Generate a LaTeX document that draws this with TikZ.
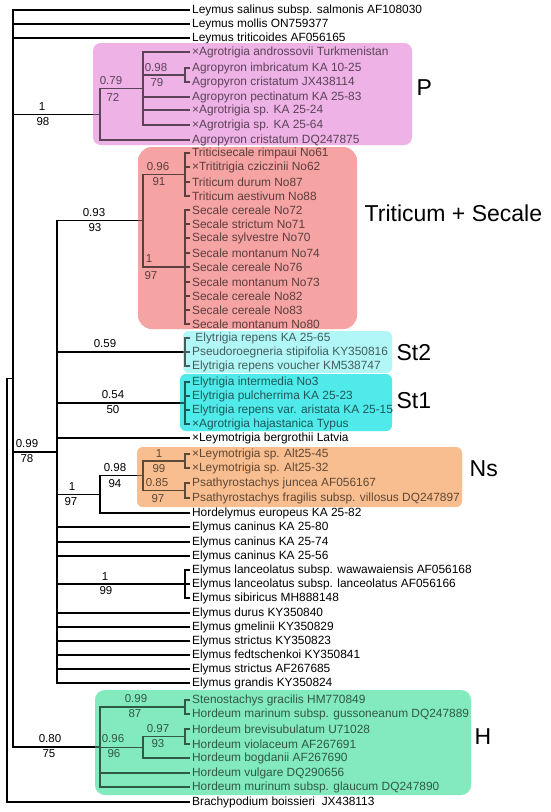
\documentclass[tikz,border=0pt]{standalone}
\usepackage{fontspec}
\setmainfont{Liberation Sans}
\definecolor{boxP}{RGB}{238,178,230}
\definecolor{boxTS}{RGB}{245,163,163}
\definecolor{boxStb}{RGB}{178,247,247}
\definecolor{boxSta}{RGB}{80,234,234}
\definecolor{boxNs}{RGB}{249,190,143}
\definecolor{boxH}{RGB}{130,234,188}

\begin{document}
\begin{tikzpicture}[x=1pt, y=-1pt, line width=1.3pt,
    leaf/.style={anchor=west, inner xsep=1.5pt, inner ysep=0pt, font=\fontsize{11.9}{13}\selectfont},
    supp/.style={inner sep=0pt, font=\fontsize{11.5}{13}\selectfont},
    genome/.style={anchor=west, inner sep=0pt, font=\fontsize{23}{26}\selectfont},
    clade/.style={fill=#1, rounded corners=8pt},
    tint/.style={fill=#1, fill opacity=0.38, rounded corners=8pt}]

    \useasboundingbox (0,0) rectangle (550,812);

    % coloured groups, underneath
    \fill[clade=boxP] (93,43) rectangle (412,145);
    \fill[clade=boxTS, rounded corners=14pt] (138,147) rectangle (357,329);
    \fill[clade=boxStb, rounded corners=6pt] (183,331) rectangle (392,373);
    \fill[clade=boxSta, rounded corners=6pt] (180,374) rectangle (392,431);
    \fill[clade=boxNs, rounded corners=6pt] (137,447) rectangle (462,507);
    \fill[clade=boxH, rounded corners=10pt] (95,690) rectangle (471,795);

    % taxa
    \node[leaf] (t1) at (190,10) {Leymus salinus subsp. salmonis AF108030};
    \node[leaf] (t2) at (190,24) {Leymus mollis ON759377};
    \node[leaf] (t3) at (190,38) {Leymus triticoides AF056165};
    \node[leaf] (t4) at (190,52) {×Agrotrigia androssovii Turkmenistan};
    \node[leaf] (t5) at (190,68) {Agropyron imbricatum KA 10-25};
    \node[leaf] (t6) at (190,82) {Agropyron cristatum JX438114};
    \node[leaf] (t7) at (190,97) {Agropyron pectinatum KA 25-83};
    \node[leaf] (t8) at (190,110) {×Agrotrigia sp. KA 25-24};
    \node[leaf] (t9) at (190,125) {×Agrotrigia sp. KA 25-64};
    \node[leaf] (t10) at (190,140) {Agropyron cristatum DQ247875};
    \node[leaf] (t11) at (190,153) {Triticisecale rimpaui No61};
    \node[leaf] (t12) at (190,167) {×Trititrigia cziczinii No62};
    \node[leaf] (t13) at (190,182) {Triticum durum No87};
    \node[leaf] (t14) at (190,196) {Triticum aestivum No88};
    \node[leaf] (t15) at (190,210) {Secale cereale No72};
    \node[leaf] (t16) at (190,224) {Secale strictum No71};
    \node[leaf] (t17) at (190,238) {Secale sylvestre No70};
    \node[leaf] (t18) at (190,253) {Secale montanum No74};
    \node[leaf] (t19) at (190,267) {Secale cereale No76};
    \node[leaf] (t20) at (190,282) {Secale montanum No73};
    \node[leaf] (t21) at (190,296) {Secale cereale No82};
    \node[leaf] (t22) at (190,310) {Secale cereale No83};
    \node[leaf] (t23) at (190,324) {Secale montanum No80};
    \node[leaf] (t24) at (190,338) {~Elytrigia repens KA 25-65};
    \node[leaf] (t25) at (190,352) {Pseudoroegneria stipifolia KY350816};
    \node[leaf] (t26) at (190,366) {Elytrigia repens voucher KM538747};
    \node[leaf] (t27) at (190,382) {Elytrigia intermedia No3};
    \node[leaf] (t28) at (190,396) {Elytrigia pulcherrima KA 25-23};
    \node[leaf] (t29) at (190,410) {Elytrigia repens var. aristata KA 25-15};
    \node[leaf] (t30) at (190,424) {×Agrotrigia hajastanica Typus};
    \node[leaf] (t31) at (190,438) {×Leymotrigia bergrothii Latvia};
    \node[leaf] (t32) at (190,454) {×Leymotrigia sp. Alt25-45};
    \node[leaf] (t33) at (190,468) {×Leymotrigia sp. Alt25-32};
    \node[leaf] (t34) at (190,483) {Psathyrostachys juncea AF056167};
    \node[leaf] (t35) at (190,498) {Psathyrostachys fragilis subsp. villosus DQ247897};
    \node[leaf] (t36) at (190,513) {Hordelymus europeus KA 25-82};
    \node[leaf] (t37) at (190,527) {Elymus caninus KA 25-80};
    \node[leaf] (t38) at (190,542) {Elymus caninus KA 25-74};
    \node[leaf] (t39) at (190,556) {Elymus caninus KA 25-56};
    \node[leaf] (t40) at (190,570) {Elymus lanceolatus subsp. wawawaiensis AF056168};
    \node[leaf] (t41) at (190,584) {Elymus lanceolatus subsp. lanceolatus AF056166};
    \node[leaf] (t42) at (190,598) {Elymus sibiricus MH888148};
    \node[leaf] (t43) at (190,613) {Elymus durus KY350840};
    \node[leaf] (t44) at (190,627) {Elymus gmelinii KY350829};
    \node[leaf] (t45) at (190,641) {Elymus strictus KY350823};
    \node[leaf] (t46) at (190,655) {Elymus fedtschenkoi KY350841};
    \node[leaf] (t47) at (190,669) {Elymus strictus AF267685};
    \node[leaf] (t48) at (190,683) {Elymus grandis KY350824};
    \node[leaf] (t49) at (190,700) {Stenostachys gracilis HM770849};
    \node[leaf] (t50) at (190,714) {Hordeum marinum subsp. gussoneanum DQ247889};
    \node[leaf] (t51) at (190,729) {Hordeum brevisubulatum U71028};
    \node[leaf] (t52) at (190,744) {Hordeum violaceum AF267691};
    \node[leaf] (t53) at (190,758) {Hordeum bogdanii AF267690};
    \node[leaf] (t54) at (190,773) {Hordeum vulgare DQ290656};
    \node[leaf] (t55) at (190,787) {Hordeum murinum subsp. glaucum DQ247890};
    \node[leaf] (t56) at (190,802) {Brachypodium boissieri\ \ JX438113};

    % internal nodes
    \coordinate (root) at (7,590.25);
    \coordinate (nA) at (13,378.5);
    \coordinate (nP) at (100,114.25);
    \coordinate (nP1) at (143,88.5);
    \coordinate (nP2) at (185,75);
    \coordinate (nB) at (57,451.9);
    \coordinate (nT) at (143,220.75);
    \coordinate (nT1) at (185,174.5);
    \coordinate (nT2) at (185,267);
    \coordinate (nSb) at (185,352);
    \coordinate (nSa) at (185,403);
    \coordinate (nN) at (100,494.4);
    \coordinate (nN1) at (143,475.75);
    \coordinate (nN2) at (185,461);
    \coordinate (nN3) at (185,490.5);
    \coordinate (nE) at (185,584);
    \coordinate (nH) at (100,747);
    \coordinate (nH1) at (185,707);
    \coordinate (nH2) at (143,747.25);
    \coordinate (nH3) at (185,736.5);

    % branches
    \draw (root) |- (nA) (root) |- (t56);
    \draw (nA) |- (t1) (nA) |- (t2) (nA) |- (t3) (nA) |- (nP) (nA) |- (nB) (nA) |- (nH);
    \draw (nP) |- (nP1) (nP) |- (t10);
    \draw (nP1) |- (t4) (nP1) |- (nP2) (nP1) |- (t7) (nP1) |- (t8) (nP1) |- (t9);
    \draw (nP2) |- (t5) (nP2) |- (t6);
    \draw (nB) |- (nT) (nB) |- (nSb) (nB) |- (nSa) (nB) |- (t31) (nB) |- (nN)
          (nB) |- (t37) (nB) |- (t38) (nB) |- (t39) (nB) |- (nE)
          (nB) |- (t43) (nB) |- (t44) (nB) |- (t45) (nB) |- (t46) (nB) |- (t47) (nB) |- (t48);
    \draw (nT) |- (nT1) (nT) |- (nT2);
    \draw (nT1) |- (t11) (nT1) |- (t12) (nT1) |- (t13) (nT1) |- (t14);
    \draw (nT2) |- (t15) (nT2) |- (t16) (nT2) |- (t17) (nT2) |- (t18) (nT2) |- (t19)
          (nT2) |- (t20) (nT2) |- (t21) (nT2) |- (t22) (nT2) |- (t23);
    \draw (nSb) |- (t24) (nSb) |- (t25) (nSb) |- (t26);
    \draw (nSa) |- (t27) (nSa) |- (t28) (nSa) |- (t29) (nSa) |- (t30);
    \draw (nN) |- (nN1) (nN) |- (t36);
    \draw (nN1) |- (nN2) (nN1) |- (nN3);
    \draw (nN2) |- (t32) (nN2) |- (t33);
    \draw (nN3) |- (t34) (nN3) |- (t35);
    \draw (nE) |- (t40) (nE) |- (t41) (nE) |- (t42);
    \draw (nH) |- (nH1) (nH) |- (nH2) (nH) |- (t54) (nH) |- (t55);
    \draw (nH1) |- (t49) (nH1) |- (t50);
    \draw (nH2) |- (nH3) (nH2) |- (t53);
    \draw (nH3) |- (t51) (nH3) |- (t52);

    % posterior probability (above) and bootstrap (below)
    \node[supp] (pP) at (42,106.5) {1};      \node[supp] (bP) at (43,121.5) {98};
    \node[supp] (pP1) at (111,81) {0.79};    \node[supp] (bP1) at (113,97) {72};
    \node[supp] (pP2) at (156,68) {0.98};    \node[supp] (bP2) at (157,83) {79};
    \node[supp] (pT) at (94,213) {0.93};     \node[supp] (bT) at (95,227.5) {93};
    \node[supp] (pT1) at (158,166.5) {0.96}; \node[supp] (bT1) at (159,182) {91};
    \node[supp] (pT2) at (149,258.5) {1};    \node[supp] (bT2) at (151,276) {97};
    \node[supp] (pSb) at (105,344) {0.59};
    \node[supp] (pSa) at (113,394.5) {0.54}; \node[supp] (bSa) at (113,409.5) {50};
    \node[supp] (pB) at (27,444) {0.99};     \node[supp] (bB) at (27,458.5) {78};
    \node[supp] (pN) at (72,487) {1};        \node[supp] (bN) at (71,502) {97};
    \node[supp] (pN1) at (115,467.5) {0.98}; \node[supp] (bN1) at (115,484) {94};
    \node[supp] (pN2) at (159,454) {1};      \node[supp] (bN2) at (159,468.5) {99};
    \node[supp] (pN3) at (157,483) {0.85};   \node[supp] (bN3) at (158,498.5) {97};
    \node[supp] (pE) at (105,576.5) {1};     \node[supp] (bE) at (106,591) {99};
    \node[supp] (pH) at (50,739) {0.80};     \node[supp] (bH) at (49,753.5) {75};
    \node[supp] (pH1) at (136,699) {0.99};   \node[supp] (bH1) at (135,714) {87};
    \node[supp] (pH2) at (113,739) {0.96};   \node[supp] (bH2) at (114,753.5) {96};
    \node[supp] (pH3) at (158,729) {0.97};   \node[supp] (bH3) at (158,743.5) {93};

    % tint over the groups
    \fill[tint=boxP] (93,43) rectangle (412,145);
    \fill[tint=boxTS, rounded corners=14pt] (138,147) rectangle (357,329);
    \fill[tint=boxStb, rounded corners=6pt] (183,331) rectangle (392,373);
    \fill[tint=boxSta, rounded corners=6pt] (180,374) rectangle (392,431);
    \fill[tint=boxNs, rounded corners=6pt] (137,447) rectangle (462,507);
    \fill[tint=boxH, rounded corners=10pt] (95,690) rectangle (471,795);

    % genome labels
    \node[genome] (gP) at (416,88) {P};
    \node[genome] (gTS) at (364,213.5) {Triticum + Secale};
    \node[genome] (gStb) at (396,353) {St2};
    \node[genome] (gSta) at (396,401) {St1};
    \node[genome] (gNs) at (469,468.5) {Ns};
    \node[genome] (gH) at (474,737) {H};
\end{tikzpicture}
\end{document}
